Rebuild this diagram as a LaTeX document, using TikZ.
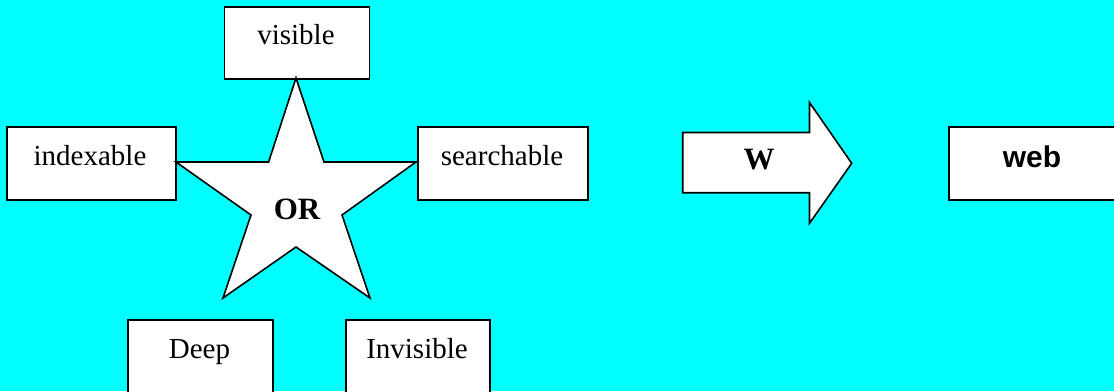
\documentclass[tikz,border=0pt]{standalone}
\usepackage{fontspec}
\setmainfont{Liberation Serif}
\newfontfamily\arialbold{Liberation Sans}[Scale=1]
\definecolor{bgcyan}{RGB}{0,255,255}
\begin{document}
\begin{tikzpicture}[x=1pt,y=-1pt,
  box/.style={draw=black,fill=white,line width=1.6pt,rectangle,inner sep=0pt,anchor=north west},
  txt/.style={font=\fontsize{29}{34}\selectfont,inner sep=0pt,anchor=base},
  btxt/.style={font=\fontsize{31}{36}\selectfont\bfseries,inner sep=0pt,anchor=base},
  shp/.style={draw=black,fill=white,line width=1.6pt,line join=miter}]
\useasboundingbox (0,0) rectangle (1114,391);
\fill[bgcyan] (0,0) rectangle (1114,391);
\clip (0,0) rectangle (1114,391);
% boxes
\node[box,minimum width=145pt,minimum height=72pt] (visbox) at (223.5,6) {};
\node[txt] (vis) at (296,44) {visible};
\node[box,minimum width=169pt,minimum height=73pt] (idxbox) at (6,126) {};
\node[txt] (idx) at (90,165) {indexable};
\node[box,minimum width=170pt,minimum height=73pt] (srchbox) at (417,126) {};
\node[txt] (srch) at (502,165) {searchable};
\node[box,minimum width=145pt,minimum height=90pt] (deepbox) at (127,319) {};
\node[txt] (deep) at (199.5,358) {Deep};
\node[box,minimum width=144pt,minimum height=90pt] (invbox) at (345,319) {};
\node[txt] (inv) at (417,358) {Invisible};
% star
\coordinate (s1) at (296,78);
\coordinate (s2) at (324,162);
\coordinate (s3) at (416,162);
\coordinate (s4) at (342,215);
\coordinate (s5) at (370,298);
\coordinate (s6) at (296,247);
\coordinate (s7) at (223,298);
\coordinate (s8) at (251,215);
\coordinate (s9) at (176,162);
\coordinate (s10) at (268.6,162);
\draw[shp] (s1) -- (s2) -- (s3) -- (s4) -- (s5) -- (s6) -- (s7) -- (s8) -- (s9) -- (s10) -- cycle;
\node[btxt] (or) at (297,219.5) {OR};
% arrow
\coordinate (a1) at (682.7,132.5);
\coordinate (a2) at (809.5,132.5);
\coordinate (a3) at (809.5,102.5);
\coordinate (a4) at (851.7,163.3);
\coordinate (a5) at (809.5,223.3);
\coordinate (a6) at (809.5,192.7);
\coordinate (a7) at (682.7,192.7);
\draw[shp] (a1) -- (a2) -- (a3) -- (a4) -- (a5) -- (a6) -- (a7) -- cycle;
\node[btxt] (w) at (759,169) {W};
% web
\node[box,minimum width=200pt,minimum height=73pt] (webbox) at (948,126) {};
\node[font=\fontsize{30}{35}\selectfont\arialbold\bfseries,inner sep=0pt,anchor=base] (web) at (1032,167) {web};
\end{tikzpicture}
\end{document}
